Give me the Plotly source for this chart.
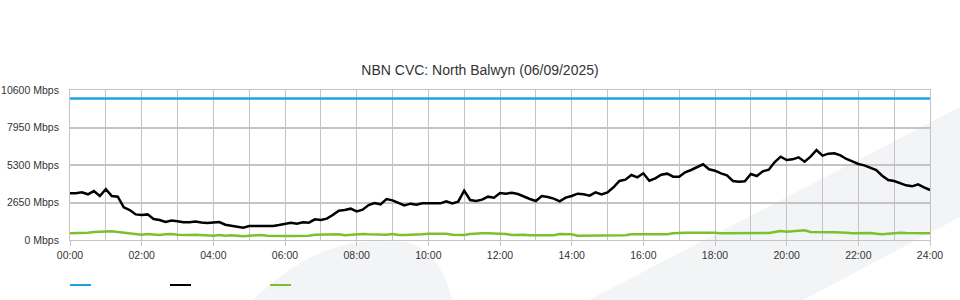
import plotly.graph_objects as go

# ---- data (10-minute samples, 00:00 .. 24:00) ----
hours = [i / 6 for i in range(145)]

capacity_mbps = [10000] * 145

traffic_mbps = [
    3300, 3300, 3370, 3230, 3460, 3110, 3600, 3110, 3060, 2310, 2120, 1810, 1770,
    1810, 1480, 1410, 1270, 1370, 1320, 1250, 1250, 1300, 1230, 1200, 1230, 1270,
    1080, 1010, 990, 870, 990, 990, 1040, 1010, 990, 1060, 1150,
    1225, 1154, 1249, 1225, 1460, 1413, 1508, 1767, 2073, 2120, 2214, 2026, 2144,
    2473, 2615, 2520, 2897, 2803, 2638, 2450, 2568, 2497, 2591, 2591, 2544, 2591,
    2732, 2591, 2709, 3486, 2827, 2756, 2850, 3062, 2992, 3320,
    3274, 3345, 3251, 3062, 2897, 2756, 3109, 3039, 2921, 2732, 2991, 3109, 3274,
    3227, 3133, 3368, 3227, 3368, 3722, 4169, 4264, 4593, 4429, 4711, 4193, 4358,
    4617, 4688, 4476, 4476, 4782, 4947, 5135, 5347, 4994, 4900,
    4711, 4570, 4169, 4122, 4146, 4664, 4523, 4853, 4970, 5512, 5889, 5653, 5700,
    5842, 5536, 5889, 6360, 5960, 6101, 6124, 5983, 5724, 5559, 5371, 5277, 5135,
    4947, 4546, 4240, 4169, 4004, 3863, 3792, 3934, 3722, 3534,
]

upload_mbps = [
    471, 471, 471, 518, 565, 589, 589, 612, 565, 518, 471, 424, 377, 424, 377, 353,
    400, 424, 377, 353, 353, 377, 353, 306, 306, 353, 306, 330, 306, 259, 306, 353,
    353, 306, 283, 283, 283,
    283, 283, 283, 306, 377, 377, 400, 400, 400, 330, 377, 424, 424, 400, 377, 377,
    377, 424, 353, 353, 353, 353, 400, 447, 447, 447, 447, 377, 353, 353, 424, 471,
    471, 471, 471, 471,
    424, 353, 377, 377, 330, 330, 330, 330, 330, 424, 424, 400, 306, 306, 306, 306,
    306, 306, 306, 306, 330, 400, 400, 400, 400, 400, 400, 400, 471, 518, 518, 518,
    518, 565, 565, 518,
    471, 471, 471, 471, 471, 471, 471, 471, 494, 565, 636, 589, 613, 613, 683, 565,
    542, 542, 542, 542, 542, 518, 471, 494, 471, 494, 447, 400, 447, 494, 518, 494,
    494, 471, 471, 471,
]

y_ticks = [0, 2650, 5300, 7950, 10600]
y_tick_labels = ["0 Mbps", "2650 Mbps", "5300 Mbps", "7950 Mbps", "10600 Mbps"]
x_ticks = list(range(0, 25, 2))
x_tick_labels = [f"{h:02d}:00" for h in x_ticks]

BLUE = "#1fa3e0"
BLACK = "#000000"
GREEN = "#7cc12d"
GRID = "#c4c4c4"
TEXT = "#333333"
WATERMARK = "#f3f4f6"

fig = go.Figure()
fig.add_trace(go.Scatter(x=hours, y=capacity_mbps, mode="lines", name="Capacity",
                         line=dict(color=BLUE, width=2.5), showlegend=False))
fig.add_trace(go.Scatter(x=hours, y=traffic_mbps, mode="lines", name="Download",
                         line=dict(color=BLACK, width=2.5), showlegend=False))
fig.add_trace(go.Scatter(x=hours, y=upload_mbps, mode="lines", name="Upload",
                         line=dict(color=GREEN, width=2.5), showlegend=False))

shapes = [
    # background watermark: diagonal band lower right
    dict(type="path", xref="paper", yref="paper", layer="below",
         path="M 0.6035,-0.4 L 1.0349,0.8867 L 1.0349,0.1533 L 0.8523,-0.4 Z",
         fillcolor=WATERMARK, line=dict(width=0)),
    # background watermark: swoosh bottom middle
    dict(type="path", xref="paper", yref="paper", layer="below",
         path="M 0.2128,-0.4 C 0.2674,-0.1 0.314,-0.008 0.3547,-0.008 "
              "L 0.3895,-0.012 C 0.4186,-0.05 0.436,-0.2 0.4442,-0.4 Z",
         fillcolor=WATERMARK, line=dict(width=0)),
]
# legend swatches (no labels in the reference)
for x0, col in [(0.0, BLUE), (0.1163, BLACK), (0.2326, GREEN)]:
    shapes.append(dict(type="line", xref="paper", yref="paper",
                       x0=x0, x1=x0 + 0.0244, y0=-0.3, y1=-0.3,
                       line=dict(color=col, width=2)))

fig.update_layout(
    width=960, height=300,
    margin=dict(l=70, r=30, t=90, b=60, autoexpand=False),
    paper_bgcolor="white",
    plot_bgcolor="rgba(0,0,0,0)",
    font=dict(family="Liberation Sans, Arial, sans-serif", size=10.5, color=TEXT),
    title=dict(text="NBN CVC: North Balwyn (06/09/2025)", x=0.5, xanchor="center",
               y=1 - 70 / 300, yanchor="middle",
               font=dict(size=14, color=TEXT)),
    shapes=shapes,
    showlegend=False,
)
fig.update_xaxes(
    range=[0, 24], tickvals=x_ticks, ticktext=x_tick_labels,
    showgrid=True, gridcolor=GRID, gridwidth=1,
    minor=dict(dtick=1, showgrid=True, gridcolor=GRID, gridwidth=1),
    ticks="outside", ticklen=5, tickcolor=GRID,
    showline=True, linecolor=GRID, linewidth=1, mirror=True,
    zeroline=False, fixedrange=True, automargin=False,
)
fig.update_yaxes(
    range=[0, 10600], tickvals=y_ticks, ticktext=y_tick_labels,
    showgrid=True, gridcolor=GRID, gridwidth=1.5,
    ticks="", ticklabelstandoff=8,
    showline=True, linecolor=GRID, linewidth=1, mirror=True,
    zeroline=False, fixedrange=True, automargin=False,
)

fig.write_html("out.html")
